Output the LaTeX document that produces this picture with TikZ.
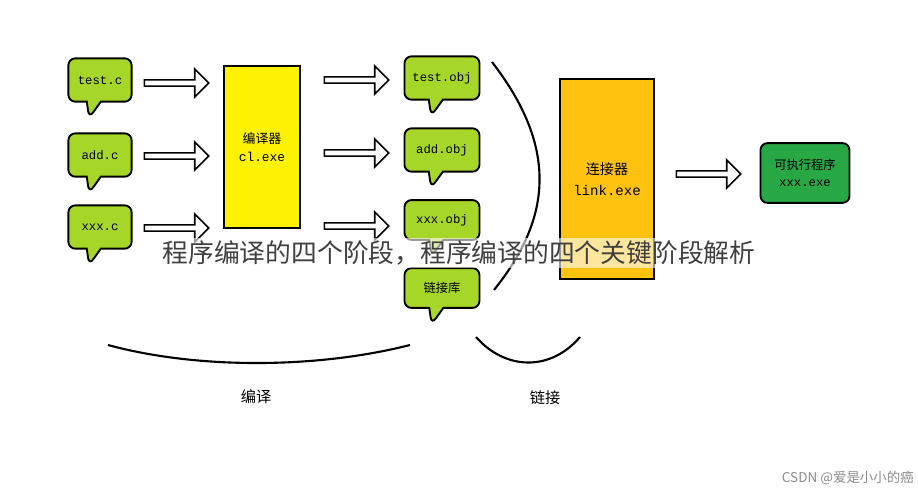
\documentclass[tikz,border=0pt]{standalone}
\usepackage{fontspec}
\setmonofont{Liberation Mono}
\newfontfamily\cjk{Noto Sans CJK SC}
\usetikzlibrary{shapes.callouts, shapes.arrows}
\definecolor{cLime}{HTML}{A6D627}
\definecolor{cYellow}{HTML}{FFF200}
\definecolor{cOrange}{HTML}{FFC20E}
\definecolor{cGreen}{HTML}{27A844}
\tikzset{
  fFile/.style={rectangle callout, rounded corners=6pt, draw=black, line width=1.6pt, fill=cLime,
    minimum width=54pt, minimum height=37pt, font=\ttfamily\fontsize{10.5}{12}\selectfont,
    callout relative pointer={(-4pt,-14pt)}, callout pointer width=12pt},
  fTool/.style={rectangle, draw=black, line width=1.6pt, font=\ttfamily\fontsize{11}{16}\selectfont, align=center},
  fArrow/.style={single arrow, draw=black, line width=1.4pt, fill=white, minimum height=55pt,
    minimum width=24pt, single arrow head extend=6pt, inner sep=1pt},
  fCurve/.style={line width=1.8pt}
}
\begin{document}
\begin{tikzpicture}[x=0.03cm, y=-0.03cm]
    \useasboundingbox [fill=white] (0,0) rectangle (918,490);
    % source files
    \node (srcA) [fFile] at (100,80) {test.c};
    \node (srcB) [fFile] at (100,155) {add.c};
    \node (srcC) [fFile] at (100,227) {xxx.c};
    % compiler
    \node (cl) [fTool, fill=cYellow, minimum width=65pt, minimum height=138pt] at (262,147) {{\cjk 编译器}\\cl.exe};
    \node (arA) [fArrow] at (175,83) {};
    \node (arB) [fArrow] at (175,156) {};
    \node (arC) [fArrow] at (175,228) {};
    \node (arD) [fArrow] at (355,80) {};
    \node (arE) [fArrow] at (355,153) {};
    \node (arF) [fArrow] at (355,226) {};
    % object files
    \node (objA) [fFile, minimum width=64pt] at (442,78) {test.obj};
    \node (objB) [fFile, minimum width=64pt] at (442,150) {add.obj};
    \node (objC) [fFile, minimum width=64pt, minimum height=34pt] at (442,220) {xxx.obj};
    \node (lib) [fFile, minimum width=64pt, minimum height=34pt, font=\cjk\fontsize{10.5}{12}\selectfont] at (442,288) {链接库};
    % linker
    \node (link) [fTool, fill=cOrange, minimum width=80pt, minimum height=171pt, font=\ttfamily\fontsize{12}{18}\selectfont] at (607,179) {{\cjk 连接器}\\link.exe};
    \node (arG) [fArrow] at (707,174) {};
    \node (exe) [fTool, fill=cGreen, rounded corners=6pt, minimum width=76pt, minimum height=51pt, font=\ttfamily\fontsize{10.5}{14}\selectfont] at (805,173) {{\cjk 可执行程序}\\xxx.exe};
    % brackets
    \draw [fCurve] (492,62) .. controls (560,150) and (550,220) .. (494,290);
    \draw [fCurve] (108,345) .. controls (200,370) and (320,368) .. (410,345);
    \draw [fCurve] (476,337) .. controls (505,370) and (550,372) .. (580,337);
    \node (lblCompile) [font=\cjk\fontsize{13}{15}\selectfont] at (256,397) {编译};
    \node (lblLink) [font=\cjk\fontsize{13}{15}\selectfont] at (545,398) {链接};
    % overlay
    \node (title) [fill=white, fill opacity=0.6, text opacity=1, text=black!75, font=\cjk\fontsize{22}{26}\selectfont, inner sep=2pt] at (459,253) {程序编译的四个阶段，程序编译的四个关键阶段解析};
    \node (mark) [text=black!45, font=\cjk\fontsize{11.5}{13}\selectfont, anchor=east] at (918,478) {CSDN @爱是小小的癌};
\end{tikzpicture}
\end{document}
